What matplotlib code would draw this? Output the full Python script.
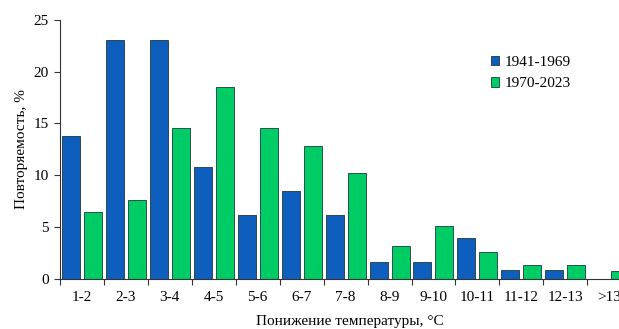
import numpy as np
import matplotlib
matplotlib.use("Agg")
from matplotlib import pyplot as plt
from matplotlib.patches import Patch

categories = ["1-2", "2-3", "3-4", "4-5", "5-6", "6-7", "7-8", "8-9",
              "9-10", "10-11", "11-12", "12-13", ">13"]
early = [13.8, 23.1, 23.1, 10.8, 6.2, 8.5, 6.2, 1.6, 1.6, 3.9, 0.8, 0.8, 0.0]
late = [6.4, 7.6, 14.6, 18.5, 14.6, 12.8, 10.2, 3.2, 5.1, 2.6, 1.3, 1.3, 0.7]
series_names = ["1941-1969", "1970-2023"]

blue = "#0e5ebd"
green = "#00cc66"
edge = "#1f3a3a"

plt.rcParams["font.family"] = ["Liberation Serif", "DejaVu Serif"]
plt.rcParams["font.size"] = 11

fig = plt.figure(figsize=(6.19, 3.29), dpi=100)
# axes run past the right edge on purpose, the last category is cut off
ax = fig.add_axes([60 / 619, 50.3 / 329, 571.2 / 619, 258.7 / 329])

x = np.arange(len(categories))
w = 0.41
ax.bar(x - 0.25, early, width=w, color=blue, edgecolor=edge, linewidth=0.6, zorder=2)
ax.bar(x + 0.25, late, width=w, color=green, edgecolor=edge, linewidth=0.6, zorder=2)

ax.set_xlim(-0.5, len(categories) - 0.5)
ax.set_ylim(0, 25)
ax.set_yticks([0, 5, 10, 15, 20, 25])

ax.set_xticks(np.arange(len(categories) + 1) - 0.5)
ax.set_xticklabels([])
ax.set_xticks(x, minor=True)
ax.set_xticklabels(categories, minor=True)
ax.tick_params(axis="x", which="major", direction="out", length=4, width=0.8, color="#333333")
ax.tick_params(axis="x", which="minor", length=0, pad=9)
ax.tick_params(axis="y", direction="out", length=4, width=0.8, color="#333333", pad=4)

for s in ["top", "right"]:
    ax.spines[s].set_visible(False)
for s in ["left", "bottom"]:
    ax.spines[s].set_color("#333333")
    ax.spines[s].set_linewidth(0.8)

ax.set_ylabel("Повторяемость, %")
ax.yaxis.set_label_coords(-32 / 571.2, 0.5)
fig.text(350 / 619, 1 - 321 / 329, "Понижение температуры, °C", ha="center", va="center")

handles = [Patch(facecolor=blue, edgecolor=edge, linewidth=0.6),
           Patch(facecolor=green, edgecolor=edge, linewidth=0.6)]
fig.legend(handles, series_names, loc="upper left",
           bbox_to_anchor=(491 / 619, 1 - 56 / 329), frameon=False,
           handlelength=0.55, handleheight=0.55, handletextpad=0.35,
           labelspacing=0.55, borderpad=0, borderaxespad=0)

plt.savefig("out.png", dpi=100)
